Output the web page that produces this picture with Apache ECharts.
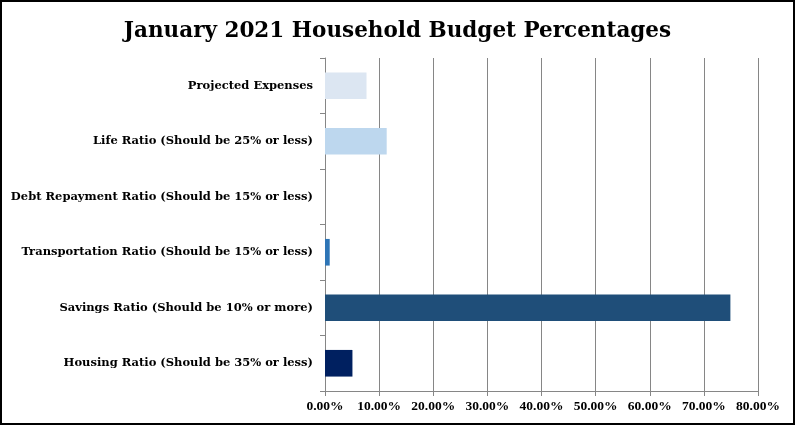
<!DOCTYPE html>
<html><head><meta charset="utf-8">
<script src="https://cdn.jsdelivr.net/npm/echarts@6/dist/echarts.min.js"></script>
<style>
html,body{margin:0;padding:0;background:#fff;}
#c{position:absolute;left:0;top:0;width:791px;height:421px;border:2px solid #000;}
</style></head>
<body><div id="c"></div>
<script>
const categories = [
  'Housing Ratio (Should be 35% or less)',
  'Savings Ratio (Should be 10% or more)',
  'Transportation Ratio (Should be 15% or less)',
  'Debt Repayment Ratio (Should be 15% or less)',
  'Life Ratio (Should be 25% or less)',
  'Projected Expenses'
];
const values = [5.07, 74.9, 0.87, 0, 11.4, 7.67];
const xTicks = [0, 10, 20, 30, 40, 50, 60, 70, 80];
const barColors = ['#002060', '#1f4e79', '#2e75b6', '#9dc3e6', '#bdd7ee', '#dce6f2'];

const chart = echarts.init(document.getElementById('c'), null, {renderer:'canvas'});
const serif = '"DejaVu Serif", "Liberation Serif", serif';
const serif2 = '"Liberation Serif", "DejaVu Serif", serif';
chart.setOption({
  animation: false,
  title: {
    text: 'January 2021 Household Budget Percentages',
    left: 'center', top: 13,
    textStyle: {fontFamily: serif, fontWeight: 'bold', fontSize: 21.5, color: '#000'}
  },
  grid: {left: 323, right: 35, top: 56, bottom: 32, containLabel: false, outerBoundsMode: 'none'},
  xAxis: {
    type: 'value', min: xTicks[0], max: xTicks[xTicks.length-1], interval: 10,
    axisLine: {show: true, lineStyle: {color: '#868686'}},
    axisTick: {show: true, length: 5, lineStyle: {color: '#868686'}},
    splitLine: {show: true, lineStyle: {color: '#868686', width: 1}},
    axisLabel: {fontFamily: serif2, fontWeight: 'bold', fontSize: 13.5, color: '#000', margin: 9,
      formatter: v => v.toFixed(2) + '%'}
  },
  yAxis: {
    type: 'category', data: categories,
    axisLine: {show: true, lineStyle: {color: '#868686'}},
    axisTick: {show: true, length: 5, lineStyle: {color: '#868686'}},
    axisLabel: {fontFamily: serif, fontWeight: 'bold', fontSize: 11.5, color: '#000', margin: 12}
  },
  series: [{
    type: 'bar',
    barWidth: '48%',
    data: values.map((v, i) => ({value: v, itemStyle: {color: barColors[i]}}))
  }]
});
</script></body></html>
